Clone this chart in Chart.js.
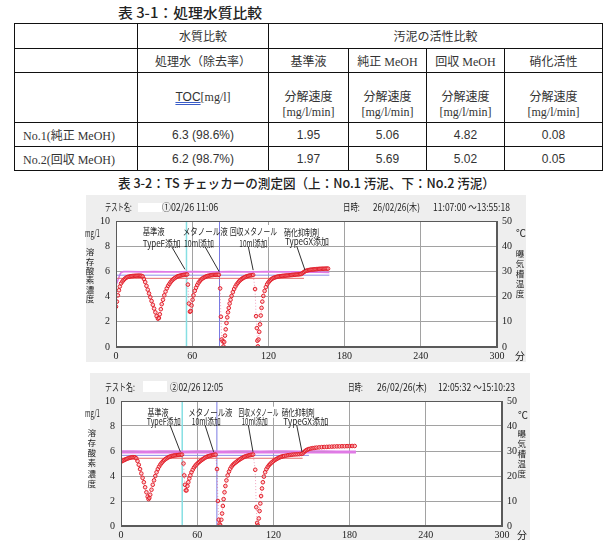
<!DOCTYPE html>
<html lang="ja">
<head>
<meta charset="utf-8">
<title>処理水質比較</title>
<script src="https://cdn.jsdelivr.net/npm/chart.js@4.4.1/dist/chart.umd.min.js"></script>
<style>
  html, body { margin: 0; padding: 0; background: #fff; }
  body { position: relative; width: 613px; height: 548px; overflow: hidden;
         font-family: "Noto Sans CJK JP", sans-serif; color: #222; }
  .abs { position: absolute; white-space: nowrap; transform-origin: 0 50%; }
  .vert { position: absolute; text-align: center; color: #222; }
  .vert div { display: block; height: inherit; }
  .hole { position: absolute; background: #fff; }
  table { position: absolute; left: 14px; top: 23px; border-collapse: collapse; table-layout: fixed;
          font-family: "Liberation Serif", "Noto Sans CJK JP", serif; font-size: 12px; color: #333; }
  td { border: 1px solid #111; text-align: center; padding: 0; white-space: nowrap; }
  td.l { text-align: left; padding-left: 8px; }
  td.n { font-family: "Liberation Sans", "Noto Sans CJK JP", sans-serif; }
  tr.two td { vertical-align: top; padding-top: 17px; line-height: 14.5px; }
  .toc { font-family: "Liberation Sans", sans-serif; text-decoration: underline double #3a5cc8; }
  canvas { position: absolute; background: #eeeeee; }
</style>
</head>
<body>
<div class="abs" id="title1" style="left:118px; top:4px; font-size:14px; line-height:16px; font-weight:500;">表 3-1：処理水質比較</div>
<table id="tbl">
  <colgroup>
    <col style="width:123px"><col style="width:131px"><col style="width:80px">
    <col style="width:78px"><col style="width:78px"><col style="width:98px">
  </colgroup>
  <tr style="height:25px"><td></td><td>水質比較</td><td colspan="4">汚泥の活性比較</td></tr>
  <tr style="height:24px" id="headRow"><td></td></tr>
  <tr style="height:50px" class="two" id="unitRow"><td></td><td><span class="toc">TOC</span>[mg/l]</td></tr>
</table>
<div class="abs" id="title2" style="left:118px; top:175px; font-size:13px; line-height:16px; font-weight:500;">表 3-2：TS チェッカーの測定図（上：No.1 汚泥、下：No.2 汚泥）</div>

<canvas id="c1" width="440" height="167" style="left:86px; top:195px; width:440px; height:167px;"></canvas>
<canvas id="c2" width="440" height="167" style="left:90px; top:373px; width:440px; height:167px;"></canvas>

<script>
// ---- table values ----
const activityHeads = ["基準液", "純正 MeOH", "回収 MeOH", "硝化活性"];
const sampleNames = ["No.1(純正 MeOH)", "No.2(回収 MeOH)"];
const tocValues = ["6.3 (98.6%)", "6.2 (98.7%)"];
const rateValues = [
  ["1.95", "5.06", "4.82", "0.08"],
  ["1.97", "5.69", "5.02", "0.05"]
];

// ---- chart 1 (No.1 sludge): dissolved oxygen [min, mg/l] ----
const doPoints1 = [
  [0,3.2],[0.7,3.6],[1.5,4.1],[2.3,4.5],[3,4.8],[4,5.05],[5,5.2],[6,5.32],[7,5.42],[8,5.5],[9,5.55],[10,5.58],
  [11,5.6],[12,5.62],[13,5.63],[14,5.64],[15,5.65],[16,5.65],[17,5.66],[18,5.66],[19,5.66],[20,5.65],[21,5.6],
  [22,5.4],[23,5.15],[24,4.85],[25,4.55],[26,4.25],[27,3.95],[28,3.65],[29,3.35],[30,3.05],[31,2.75],[32,2.45],
  [33,2.25],[33.8,2.3],
  [34.5,2.6],[35.3,3.0],[36,3.4],[37,3.75],[38,4.1],[39,4.4],[40,4.65],[41,4.85],[42,5.0],[43,5.15],[44,5.27],
  [45,5.37],[46,5.45],[47,5.52],[48,5.58],[49,5.62],[50,5.65],[51,5.68],[52,5.7],[53,5.72],[54,5.73],[55,5.75],[56,5.76],
  [56.6,4.95],[57.4,3.45],[58.2,2.8],[58.8,2.85],
  [59.5,3.3],[60.3,3.75],[61,4.1],[62,4.45],[63,4.7],[64,4.92],[65,5.1],[66,5.23],[67,5.35],[68,5.43],[69,5.5],
  [70,5.55],[71,5.6],[72,5.63],[73,5.66],[74,5.68],[75,5.7],[76,5.71],[77,5.72],[78,5.72],[79,5.73],[80,5.73],[81,5.73],
  [82,4.65],[82.6,2.4],[83.2,0.6],[84,0.45],[84.6,0.05],
  [85.2,0.4],[85.8,0.9],[86.4,1.4],[87,1.9],[87.6,2.35],[88.2,2.75],[88.8,3.1],[89.5,3.45],[90.2,3.75],[91,4.05],
  [92,4.35],[93,4.6],[94,4.8],[95,4.97],[96,5.1],[97,5.22],[98,5.32],[99,5.4],[100,5.47],[101,5.52],[102,5.57],
  [103,5.61],[104,5.64],[105,5.67],[106,5.69],[107,5.7],[108,5.72],
  [109.5,4.6],[110.3,2.45],[110.9,1.5],[111.3,0.5],[111.7,0.05],
  [112.2,0.6],[112.8,1.2],[113.4,1.8],[114,2.5],[114.6,3.1],[115.2,3.6],[116,4.05],[117,4.45],[118,4.75],[119,4.98],
  [120,5.13],[121,5.25],[122,5.35],[123,5.42],[124,5.48],[125,5.52],[126,5.55],[127,5.58],[128,5.6],[129,5.62],
  [130,5.63],[131,5.64],[132,5.65],[133,5.66],[134,5.67],[135,5.68],[136,5.69],[137,5.7],[138,5.71],[139,5.72],
  [140,5.73],[141,5.74],[142,5.75],[143,5.76],[144,5.77],[145,5.78],[146,5.8],
  [147,5.88],[148,5.95],[149,6.02],[150,6.06],[151,6.09],[152,6.11],[153,6.13],[154,6.14],[155,6.15],[156,6.16],
  [157,6.17],[158,6.18],[159,6.19],[160,6.2],[161,6.2],[162,6.21],[163,6.21],[164,6.21],[165,6.22],[166,6.22],[167,6.22]
];
// aeration tank temperature [min, °C]
const temp1 = [
  [0,24.6],[1,25.8],[2,27.2],[3,28.6],[4,29.6],[6,29.9],[10,29.9],[20,29.8],[30,29.9],[40,29.8],[50,29.8],[60,29.9],
  [70,29.8],[80,29.8],[90,29.9],[100,29.8],[110,29.8],[120,29.9],[130,29.8],[140,29.8],[150,29.7],[160,29.7],[168,29.6]
];
const tempRef1 = [];
const blueRef1 = [[0,5.7],[168,5.7]];
const redRef1 = [[0,5.45],[148,5.45]];
const cyanEvent1 = 55.5;
const blueEvent1 = 81.5;
const noteTips1 = [[54.3,6.16],[81.3,5.97],[108,6.1],[148.8,6.1]];

// ---- chart 2 (No.2 sludge) ----
const doPoints2 = [
  [0,5.15],[1,5.2],[2,5.25],[3,5.3],[4,5.35],[5,5.39],[6,5.43],[7,5.46],[8,5.48],[9,5.5],[10,5.5],[11,5.49],[12,5.42],
  [13,5.2],[14,4.9],[15,4.55],[16,4.2],[17,3.85],[18,3.5],[19,3.1],[20,2.7],[21,2.35],[21.7,2.15],[22.3,2.25],
  [23,2.5],[24,2.9],[25,3.3],[26,3.65],[27,4.0],[28,4.3],[29,4.55],[30,4.75],[31,4.92],[32,5.05],[33,5.17],[34,5.27],
  [35,5.35],[36,5.42],[37,5.48],[38,5.53],[39,5.57],[40,5.6],[41,5.62],[42,5.64],[43,5.66],[44,5.67],[45,5.68],
  [46,5.69],[47,5.7],[48,5.71],
  [49.2,5.0],[49.8,4.05],[50.4,3.3],[51,2.85],[51.6,2.85],
  [52.3,3.2],[53,3.5],[53.8,3.8],[54.6,4.05],[55.5,4.3],[56.5,4.5],[57.5,4.68],[58.5,4.82],[59.5,4.93],[60.5,5.03],
  [61.5,5.12],[62.5,5.2],[63.5,5.28],[64.5,5.35],[65.5,5.42],[66.5,5.48],[67.5,5.53],[68.5,5.57],[69.5,5.6],
  [70.5,5.63],[71.5,5.66],[72.5,5.68],[73.5,5.7],[74.5,5.71],
  [75.6,4.55],[76.3,2.0],[77,0.5],[77.6,0.15],[78.2,0.05],
  [79,0.5],[79.6,1.0],[80.2,1.6],[80.8,2.15],[81.5,2.7],[82.2,3.2],[83,3.65],[84,4.05],[85,4.35],[86,4.58],[87,4.75],
  [88,4.88],[89,4.98],[90,5.06],[91,5.14],[92,5.22],[93,5.29],[94,5.36],[95,5.42],[96,5.48],[97,5.53],[98,5.57],
  [99,5.6],[100,5.63],[101,5.66],[102,5.68],[103,5.7],[104,5.72],
  [105.7,4.5],[106.5,1.5],[107.2,0.25],[107.7,0.05],
  [108.5,0.6],[109.1,1.2],[109.7,1.8],[110.3,2.4],[111,3.0],[111.7,3.5],[112.5,3.95],[113.5,4.3],[114.5,4.55],
  [115.5,4.72],[116.5,4.86],[117.5,4.97],[118.5,5.07],[119.5,5.15],[120.5,5.23],[121.5,5.3],[122.5,5.36],[123.5,5.42],
  [124.5,5.47],[125.5,5.51],[126.5,5.55],[127.5,5.58],[128.5,5.6],[130,5.63],[131.5,5.66],[133,5.68],[134.5,5.7],
  [136,5.72],[137.5,5.73],[139,5.74],[140.5,5.75],[142,5.77],[143,5.8],
  [144,5.9],[145,6.0],[146,6.07],[147,6.12],[148,6.16],[149.5,6.2],[151,6.23],[152.5,6.25],[154,6.27],[156,6.29],
  [158,6.31],[160,6.32],[162,6.33],[164,6.34],[166,6.35],[168,6.36],[170,6.37],[172,6.37],[174,6.38],[176,6.38],
  [178,6.39],[180,6.39],[182,6.4],[184,6.4]
];
const temp2 = [
  [0,30.0],[10,30.0],[20,29.9],[30,30.0],[40,30.0],[50,29.9],[60,30.0],[70,30.0],[80,29.9],[90,30.0],[100,30.0],
  [110,29.9],[120,30.0],[130,30.0],[140,29.9],[150,30.0],[160,30.0],[170,29.9],[185,29.9]
];
const tempRef2 = [[0,29.3],[185,29.3]];
const blueRef2 = [[0,5.65],[148,5.65]];
const redRef2 = [[0,5.42],[143,5.42]];
const cyanEvent2 = 48.2;
const blueEvent2 = 75.5;
const noteTips2 = [[46.7,5.94],[72.9,5.94],[103.9,5.94],[142.5,5.94]];

const xTicks = [0, 60, 120, 180, 240, 300];
const doTicks = [0, 2, 4, 6, 8, 10];
const tempTicks = [0, 10, 20, 30, 40, 50];

// ---- table ----
const headRow = document.getElementById("headRow");
headRow.insertAdjacentHTML("beforeend", "<td>処理水（除去率）</td>" + activityHeads.map(h => `<td>${h}</td>`).join(""));
const unitRow = document.getElementById("unitRow");
unitRow.insertAdjacentHTML("beforeend", activityHeads.map(() => "<td>分解速度<br>[mg/l/min]</td>").join(""));
const tbl = document.getElementById("tbl");
sampleNames.forEach((name, i) => {
  tbl.insertAdjacentHTML("beforeend",
    `<tr style="height:24px"><td class="l">${name}</td><td class="n">${tocValues[i]}</td>` +
    rateValues[i].map(v => `<td class="n">${v}</td>`).join("") + "</tr>");
});

// ---- text around the plots ----
function addText(text, left, cy, size, width) {
  const el = document.createElement("div");
  el.className = "abs";
  el.textContent = text;
  el.style.left = left + "px";
  el.style.top = (cy - size * 0.6) + "px";
  el.style.fontSize = size + "px";
  el.style.lineHeight = (size * 1.2) + "px";
  if (width) el.dataset.w = width;
  document.body.appendChild(el);
}
function addVert(text, cx, firstCy, step, size) {
  const el = document.createElement("div");
  el.className = "vert";
  el.style.left = (cx - 6) + "px";
  el.style.width = "12px";
  el.style.top = (firstCy - step / 2) + "px";
  el.style.fontSize = size + "px";
  el.style.lineHeight = step + "px";
  el.style.height = step + "px";
  el.innerHTML = [...text].map(c => `<div>${c}</div>`).join("");
  document.body.appendChild(el);
}
function addHole(l, t, w, h) {
  const el = document.createElement("div");
  el.className = "hole";
  Object.assign(el.style, { left: l + "px", top: t + "px", width: w + "px", height: h + "px" });
  document.body.appendChild(el);
}

addHole(138, 203, 24, 9);
addText("テスト名:", 105, 207, 10, 27);
addText("①02/26 11:06", 162, 207, 10, 56);
addText("日時:", 343, 207, 10, 17);
addText("26/02/26(木)", 373, 207, 10, 47);
addText("11:07:00 ～13:55:18", 433, 207, 10, 77);
addText("mg/1", 85, 233, 10, 15);
addText("℃", 516, 233, 10);
addText("分", 515, 356, 10);
addVert("溶存酸素濃度", 90, 252, 9.4, 8.5);
addVert("曝気槽温度", 520, 253, 10, 8.5);

addHole(143, 381, 24, 11);
addText("テスト名:", 105, 387, 10, 30);
addText("②02/26 12:05", 170, 387, 10, 53);
addText("日時:", 348, 387, 10, 15);
addText("26/02/26(木)", 377, 387, 10, 50);
addText("12:05:32 ～15:10:23", 438, 387, 10, 77);
addText("mg/1", 85, 413, 10, 15);
addText("℃", 518, 415, 10);
addText("分", 517, 535, 10);
addVert("溶存酸素濃度", 91.7, 431.7, 10.3, 8.5);
addVert("曝気槽温度", 521.7, 433.3, 10, 8.5);

function fitWidths() {
  document.querySelectorAll("[data-w]").forEach(el => {
    el.style.transform = "none";
    const w = +el.dataset.w;
    if (el.offsetWidth) el.style.transform = `scaleX(${w / el.offsetWidth})`;
  });
}
document.getElementById("title1").dataset.w = 144;
document.getElementById("title2").dataset.w = 377;
fitWidths();
if (document.fonts) document.fonts.ready.then(fitWidths);

// ---- charts ----
const pts = arr => arr.map(([x, y]) => ({ x, y }));
const vline = t => [{ x: t, y: 0 }, { x: t, y: 10 }];

const framePlugin = {
  id: "frame",
  beforeDraw(chart) {
    const { ctx, chartArea: a } = chart;
    ctx.save();
    ctx.fillStyle = "#ffffff";
    ctx.fillRect(a.left, a.top, a.right - a.left, a.bottom - a.top);
    ctx.restore();
  },
  afterDraw(chart) {
    const { ctx, chartArea: a } = chart;
    ctx.save();
    ctx.strokeStyle = "#5a5a5a";
    ctx.lineWidth = 1;
    ctx.strokeRect(a.left + 0.5, a.top + 0.5, a.right - a.left - 1, a.bottom - a.top - 1);
    ctx.restore();
  }
};

// annotation texts are placed in page pixels, their leader lines end on data positions
function notesPlugin(origin, notes, tips) {
  return {
    id: "notes",
    afterDatasetsDraw(chart) {
      const { ctx, scales } = chart;
      ctx.save();
      ctx.font = '9.5px "Noto Sans CJK JP"';
      ctx.textBaseline = "middle";
      notes.forEach((n, i) => {
        if (n.box) {
          ctx.fillStyle = "#ffffff";
          ctx.fillRect(n.box[0] - origin[0], n.box[1] - origin[1], n.box[2], n.box[3]);
        }
        ctx.fillStyle = "#1e1e1e";
        n.lines.forEach(([t, px, py, w]) => ctx.fillText(t, px - origin[0], py - origin[1], w));
        ctx.strokeStyle = "#303030";
        ctx.lineWidth = 1;
        ctx.beginPath();
        ctx.moveTo(n.from[0] - origin[0], n.from[1] - origin[1]);
        ctx.lineTo(scales.x.getPixelForValue(tips[i][0]), scales.y.getPixelForValue(tips[i][1]));
        ctx.stroke();
      });
      ctx.restore();
    }
  };
}

const tickFont = { family: '"Liberation Serif", serif', size: 10 };
const gridColor = "#a2a2a2";

function makeChart(id, s) {
  const ticksFrom = list => ({ ticks }) => { ticks.length = 0; list.forEach(v => ticks.push({ value: v })); };
  return new Chart(document.getElementById(id), {
    type: "scatter",
    data: {
      datasets: [
        {
          data: pts(s.doPts), showLine: true,
          borderColor: "rgba(226,90,140,0.55)", borderWidth: 1, borderDash: [1, 2],
          pointRadius: 1.8, pointBorderWidth: 1,
          pointBorderColor: "#e3202c", pointBackgroundColor: "rgba(255,170,170,0.45)"
        },
        { data: pts(s.blueRef), showLine: true, borderColor: "#8e8ee8", borderWidth: 1, pointRadius: 0 },
        { data: pts(s.redRef), showLine: true, borderColor: "#e66a6a", borderWidth: 1, pointRadius: 0 },
        { data: pts(s.temp), yAxisID: "y2", showLine: true, borderColor: "#e07ae6", borderWidth: 1.6, pointRadius: 0 },
        { data: pts(s.tempRef), yAxisID: "y2", showLine: true, borderColor: "#e07ae6", borderWidth: 1.6, pointRadius: 0 },
        { data: vline(s.cyan), showLine: true, borderColor: "#86dfe3", borderWidth: 1.5, pointRadius: 0 },
        { data: vline(s.blue), showLine: true, borderColor: "#7a7ae2", borderWidth: 1, pointRadius: 0 }
      ]
    },
    options: {
      responsive: false,
      animation: false,
      events: [],
      layout: { padding: { top: s.padTop, left: 0, right: 0, bottom: 0 } },
      plugins: { legend: { display: false }, tooltip: { enabled: false } },
      scales: {
        x: {
          type: "linear", min: 0, max: 300,
          afterBuildTicks: ticksFrom(xTicks),
          ticks: { font: tickFont, color: "#222", padding: 3, maxRotation: 0 },
          grid: { color: gridColor, drawTicks: false },
          border: { color: "#5a5a5a" },
          afterFit: sc => { sc.height = s.xH; }
        },
        y: {
          position: "left", min: 0, max: 10,
          afterBuildTicks: ticksFrom(doTicks),
          ticks: { font: tickFont, color: "#222", padding: 6 },
          grid: { color: gridColor, drawTicks: false },
          border: { color: "#5a5a5a" },
          afterFit: sc => { sc.width = s.yW; }
        },
        y2: {
          position: "right", min: 0, max: 50,
          afterBuildTicks: ticksFrom(tempTicks),
          ticks: { font: tickFont, color: "#222", padding: 5 },
          grid: { drawOnChartArea: false, drawTicks: false },
          border: { color: "#5a5a5a" },
          afterFit: sc => { sc.width = s.y2W; }
        }
      }
    },
    plugins: [framePlugin, notesPlugin(s.origin, s.notes, s.tips)]
  });
}

makeChart("c1", {
  origin: [86, 195], padTop: 26, yW: 30, y2W: 29, xH: 15,
  doPts: doPoints1, temp: temp1, tempRef: tempRef1, blueRef: blueRef1, redRef: redRef1,
  cyan: cyanEvent1, blue: blueEvent1, tips: noteTips1,
  notes: [
    { lines: [["基準液", 142.7, 231.7, 22], ["TypeF添加", 142.7, 243.3, 38]], from: [171.7, 246.7] },
    { lines: [["メタノール液", 182.7, 231.7, 45], ["10ml添加", 184, 243.3, 30]], from: [205, 246.7] },
    { box: [228, 225, 50, 12], lines: [["回収メタノール", 230, 231.7, 47], ["10ml添加", 239.3, 243.3, 28]], from: [248.3, 246.7] },
    { lines: [["硝化抑制剤", 284, 232.7, 35], ["TypeGX添加", 285, 241.7, 44]], from: [296.7, 246] }
  ]
});

makeChart("c2", {
  origin: [90, 373], padTop: 28, yW: 31, y2W: 28, xH: 14,
  doPts: doPoints2, temp: temp2, tempRef: tempRef2, blueRef: blueRef2, redRef: redRef2,
  cyan: cyanEvent2, blue: blueEvent2, tips: noteTips2,
  notes: [
    { lines: [["基準液", 147.5, 412.7, 21], ["TypeF添加", 146.7, 421.7, 34]], from: [170, 425] },
    { lines: [["メタノール液", 188.3, 412.7, 44], ["10ml添加", 191.7, 421.7, 29]], from: [205, 425] },
    { box: [236.7, 406.7, 42, 11], lines: [["回収メタノール", 238.5, 412.7, 40], ["10ml添加", 241.7, 421.7, 26]], from: [248.3, 425] },
    { lines: [["硝化抑制剤", 281.7, 412.7, 33], ["TypeGX添加", 283.3, 421.7, 45]], from: [296.7, 425] }
  ]
});
</script>
</body>
</html>
